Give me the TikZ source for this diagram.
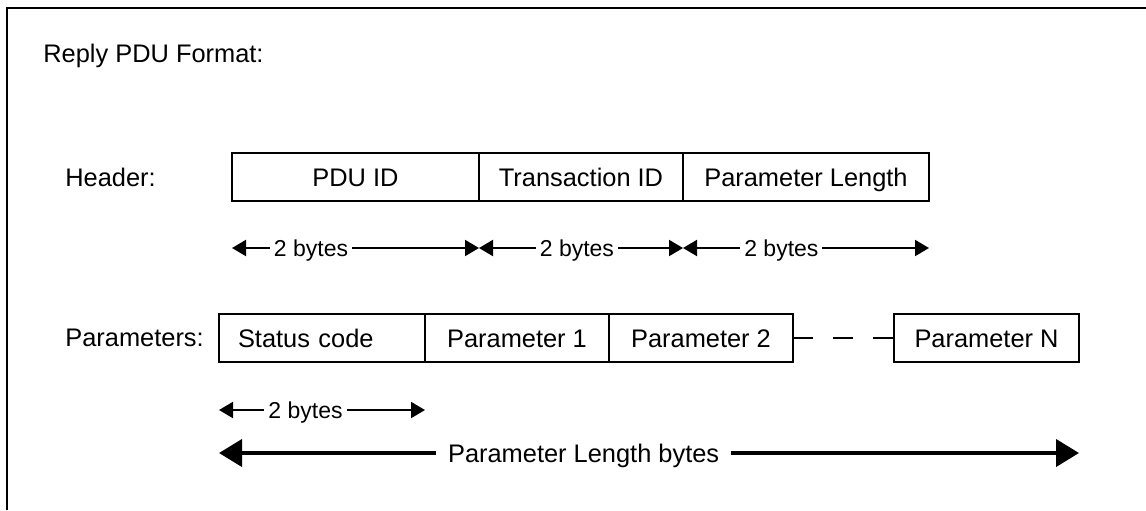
\documentclass[tikz,border=0pt]{standalone}
\usepackage{fontspec}
\setmainfont{Liberation Sans}
\usetikzlibrary{arrows.meta,positioning}

\begin{document}
\begin{tikzpicture}[x=0.5pt, y=-0.5pt,
  field/.style={draw, line width=0.75pt, minimum height=24pt, inner sep=0pt, outer sep=0pt, text height=9.1pt, text depth=0pt, font=\fontsize{12.7}{15}\selectfont},
  lbl/.style={inner sep=0pt, font=\fontsize{12.7}{15}\selectfont},
  span/.style={line width=1pt, {Triangle[length=7pt,width=8pt]}-{Triangle[length=7pt,width=8pt]}},
  bigspan/.style={line width=2pt, {Triangle[length=11.5pt,width=13.5pt]}-{Triangle[length=11.5pt,width=13.5pt]}},
  bytes/.style={fill=white, inner xsep=2pt, inner ysep=0pt, text height=8.2pt, text depth=0pt, font=\fontsize{11.5}{14}\selectfont}]

\useasboundingbox (0,0) rectangle (1146,510);
\draw[line width=1pt] (1146,8) -- (7,8) -- (7,510);

\node[lbl, anchor=base west] (title) at (43,62) {Reply PDU Format:};

% header
\node[lbl, anchor=west] (headerlbl) at (65,177) {Header:};
\node[field, minimum width=123.5pt] (pduid) at (355.5,177) {PDU ID};
\node[field, minimum width=102pt, right=0pt of pduid] (transid) {Transaction ID};
\node[field, minimum width=123pt, right=0pt of transid] (paramlen) {Parameter Length};

\coordinate[below=23.5pt of pduid.south west] (h0);
\coordinate[below=23.5pt of pduid.south east] (h1);
\coordinate[below=23.5pt of transid.south east] (h2);
\coordinate[below=23.5pt of paramlen.south east] (h3);
\draw[span] (h0) -- node[bytes, pos=0.32] {2 bytes} (h1);
\draw[span] (h1) -- node[bytes, pos=0.48] {2 bytes} (h2);
\draw[span] (h2) -- node[bytes, pos=0.40] {2 bytes} (h3);

% parameters
\node[lbl, anchor=west] (paramslbl) at (65,338) {Parameters:};
\node[field, text width=84pt, inner xsep=9.5pt, align=left] (status) at (322,338) {Status code};
\node[field, minimum width=92pt, right=0pt of status] (param1) {Parameter 1};
\node[field, minimum width=92pt, right=0pt of param1] (param2) {Parameter 2};
\node[field, minimum width=92.5pt] (paramn) at (986.5,338) {Parameter N};
\draw[line width=0.75pt, dash pattern=on 10pt off 10pt] (param2.east) -- (paramn.west);

\coordinate[below=24pt of status.south west] (p0);
\coordinate[below=24pt of status.south east] (p1);
\draw[span] (p0) -- node[bytes, pos=0.42] {2 bytes} (p1);

\coordinate[below=45.5pt of status.south west] (q0);
\coordinate[below=45.5pt of paramn.south east] (q1);
\draw[bigspan] (q0) -- node[bytes, inner xsep=6pt, pos=0.424, text height=9.1pt, font=\fontsize{12.7}{15}\selectfont] {Parameter Length bytes} (q1);

\end{tikzpicture}
\end{document}
